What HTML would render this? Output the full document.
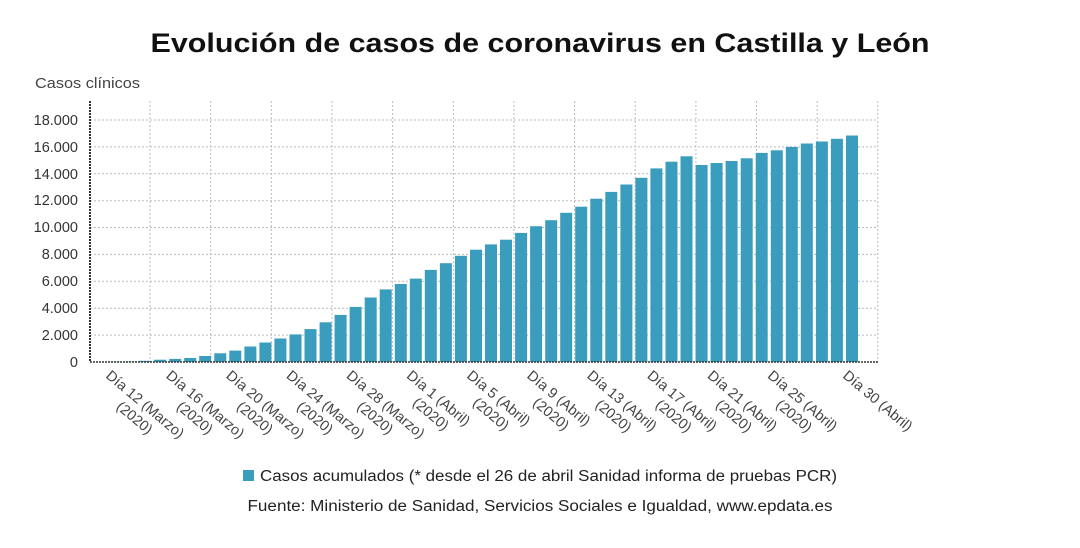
<!DOCTYPE html>
<html><head><meta charset="utf-8"><style>
body{margin:0;background:#fff;}
svg{display:block;font-family:"Liberation Sans",sans-serif;}
</style></head><body>
<svg width="1080" height="548" viewBox="0 0 1080 548" xmlns="http://www.w3.org/2000/svg">
<rect width="1080" height="548" fill="#fff"/>
<text x="540" y="52" text-anchor="middle" font-size="27" font-weight="bold" fill="#111" textLength="779" lengthAdjust="spacingAndGlyphs">Evolución de casos de coronavirus en Castilla y León</text>
<text x="35" y="88" font-size="15" fill="#444" textLength="105" lengthAdjust="spacingAndGlyphs">Casos clínicos</text>
<g stroke="#bbb" stroke-width="1" stroke-dasharray="2,2">
<line x1="90" x2="878" y1="335.1" y2="335.1"/><line x1="90" x2="878" y1="308.2" y2="308.2"/><line x1="90" x2="878" y1="281.3" y2="281.3"/><line x1="90" x2="878" y1="254.4" y2="254.4"/><line x1="90" x2="878" y1="227.5" y2="227.5"/><line x1="90" x2="878" y1="200.7" y2="200.7"/><line x1="90" x2="878" y1="173.8" y2="173.8"/><line x1="90" x2="878" y1="146.9" y2="146.9"/><line x1="90" x2="878" y1="120" y2="120"/>
<line y1="101" y2="362" x1="150" x2="150"/><line y1="101" y2="362" x1="210.7" x2="210.7"/><line y1="101" y2="362" x1="271.3" x2="271.3"/><line y1="101" y2="362" x1="332" x2="332"/><line y1="101" y2="362" x1="392.6" x2="392.6"/><line y1="101" y2="362" x1="453.3" x2="453.3"/><line y1="101" y2="362" x1="513.9" x2="513.9"/><line y1="101" y2="362" x1="574.6" x2="574.6"/><line y1="101" y2="362" x1="635.2" x2="635.2"/><line y1="101" y2="362" x1="695.9" x2="695.9"/><line y1="101" y2="362" x1="756.5" x2="756.5"/><line y1="101" y2="362" x1="817.2" x2="817.2"/><line y1="101" y2="362" x1="877.8" x2="877.8"/>
</g>
<g font-size="14.5" fill="#333" text-anchor="end">
<text x="78" y="367">0</text><text x="78" y="340">2.000</text><text x="78" y="313">4.000</text><text x="78" y="286">6.000</text><text x="78" y="259">8.000</text><text x="78" y="232">10.000</text><text x="78" y="205">12.000</text><text x="78" y="179">14.000</text><text x="78" y="152">16.000</text><text x="78" y="125">18.000</text>
</g>
<g fill="#3b9dbd" transform="translate(0,362) scale(1,-1)">
<rect x="109" width="12" height="0.4"/><rect x="124" width="12" height="0.5"/><rect x="139.1" width="12" height="1.2"/><rect x="154.1" width="12" height="2.3"/><rect x="169.2" width="12" height="3.1"/><rect x="184.2" width="12" height="4"/><rect x="199.2" width="12" height="6"/><rect x="214.3" width="12" height="8.7"/><rect x="229.3" width="12" height="11.4"/><rect x="244.4" width="12" height="15.5"/><rect x="259.4" width="12" height="19.5"/><rect x="274.4" width="12" height="23.5"/><rect x="289.5" width="12" height="27.6"/><rect x="304.5" width="12" height="32.9"/><rect x="319.6" width="12" height="39.7"/><rect x="334.6" width="12" height="47.1"/><rect x="349.6" width="12" height="55.1"/><rect x="364.7" width="12" height="64.5"/><rect x="379.7" width="12" height="72.6"/><rect x="394.8" width="12" height="78"/><rect x="409.8" width="12" height="83.4"/><rect x="424.8" width="12" height="92.1"/><rect x="439.9" width="12" height="98.8"/><rect x="454.9" width="12" height="106.2"/><rect x="470" width="12" height="112.3"/><rect x="485" width="12" height="117.6"/><rect x="500" width="12" height="122.3"/><rect x="515.1" width="12" height="129.1"/><rect x="530.1" width="12" height="135.8"/><rect x="545.2" width="12" height="141.8"/><rect x="560.2" width="12" height="149.2"/><rect x="575.2" width="12" height="155.3"/><rect x="590.3" width="12" height="163.3"/><rect x="605.3" width="12" height="170.1"/><rect x="620.4" width="12" height="177.5"/><rect x="635.4" width="12" height="184.2"/><rect x="650.4" width="12" height="193.6"/><rect x="665.5" width="12" height="200.3"/><rect x="680.5" width="12" height="205.7"/><rect x="695.6" width="12" height="197"/><rect x="710.6" width="12" height="199"/><rect x="725.6" width="12" height="201"/><rect x="740.7" width="12" height="203.7"/><rect x="755.7" width="12" height="209.1"/><rect x="770.8" width="12" height="211.7"/><rect x="785.8" width="12" height="215.1"/><rect x="800.8" width="12" height="218.5"/><rect x="815.9" width="12" height="220.5"/><rect x="830.9" width="12" height="223.2"/><rect x="846" width="12" height="226.5"/>
</g>
<line x1="90" y1="101" x2="90" y2="362" stroke="#333" stroke-width="2" stroke-dasharray="2,1"/>
<line x1="90" y1="362" x2="878" y2="362" stroke="#333" stroke-width="1.5" stroke-dasharray="2,1"/>
<g font-size="14.5" fill="#444">
<text transform="translate(105,377) rotate(40)">Día 12 (Marzo)<tspan x="28" dy="17">(2020)</tspan></text>
<text transform="translate(165.2,377) rotate(40)">Día 16 (Marzo)<tspan x="28" dy="17">(2020)</tspan></text>
<text transform="translate(225.3,377) rotate(40)">Día 20 (Marzo)<tspan x="28" dy="17">(2020)</tspan></text>
<text transform="translate(285.5,377) rotate(40)">Día 24 (Marzo)<tspan x="28" dy="17">(2020)</tspan></text>
<text transform="translate(345.6,377) rotate(40)">Día 28 (Marzo)<tspan x="28" dy="17">(2020)</tspan></text>
<text transform="translate(405.8,377) rotate(40)">Día 1 (Abril)<tspan x="22" dy="17">(2020)</tspan></text>
<text transform="translate(466,377) rotate(40)">Día 5 (Abril)<tspan x="22" dy="17">(2020)</tspan></text>
<text transform="translate(526.1,377) rotate(40)">Día 9 (Abril)<tspan x="22" dy="17">(2020)</tspan></text>
<text transform="translate(586.3,377) rotate(40)">Día 13 (Abril)<tspan x="25" dy="17">(2020)</tspan></text>
<text transform="translate(646.4,377) rotate(40)">Día 17 (Abril)<tspan x="25" dy="17">(2020)</tspan></text>
<text transform="translate(706.6,377) rotate(40)">Día 21 (Abril)<tspan x="25" dy="17">(2020)</tspan></text>
<text transform="translate(766.8,377) rotate(40)">Día 25 (Abril)<tspan x="25" dy="17">(2020)</tspan></text>
<text transform="translate(842,377) rotate(40)">Día 30 (Abril)</text>
</g>
<rect x="243" y="470" width="11" height="11" fill="#3b9dbd"/>
<text x="260" y="481" font-size="15.5" fill="#222" textLength="577" lengthAdjust="spacingAndGlyphs">Casos acumulados (* desde el 26 de abril Sanidad informa de pruebas PCR)</text>
<text x="540" y="511" text-anchor="middle" font-size="15.5" fill="#222" textLength="585" lengthAdjust="spacingAndGlyphs">Fuente: Ministerio de Sanidad, Servicios Sociales e Igualdad, www.epdata.es</text>
</svg>
</body></html>
